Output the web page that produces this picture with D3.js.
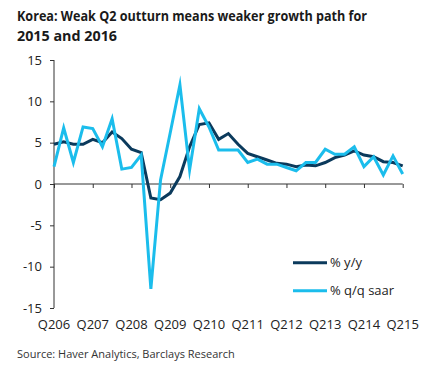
<!DOCTYPE html>
<html>
<head>
<meta charset="utf-8">
<script src="https://cdn.jsdelivr.net/npm/d3@7"></script>
<style>
  html, body { margin: 0; padding: 0; background: #fff; }
  svg { display: block; }
</style>
</head>
<body>
<svg id="chart" width="425" height="372"></svg>
<script>
const titleLines = ["Korea: Weak Q2 outturn means weaker growth path for", "2015 and 2016"];
const sourceText = "Source: Haver Analytics, Barclays Research";
const quarters = ["Q206","Q306","Q406","Q107","Q207","Q307","Q407","Q108","Q208","Q308","Q408","Q109","Q209","Q309","Q409","Q110","Q210","Q310","Q410","Q111","Q211","Q311","Q411","Q112","Q212","Q312","Q412","Q113","Q213","Q313","Q413","Q114","Q214","Q314","Q414","Q115","Q215"];
const tickLabels = ["Q206","Q207","Q208","Q209","Q210","Q211","Q212","Q213","Q214","Q215"];
const yTicks = [-15, -10, -5, 0, 5, 10, 15];
const seriesNames = ["% y/y", "% q/q saar"];
const yoy = [4.8, 5.1, 4.8, 4.8, 5.4, 5.0, 6.3, 5.5, 4.2, 3.8, -1.7, -1.9, -1.1, 0.9, 4.5, 7.2, 7.4, 5.4, 6.1, 4.8, 3.7, 3.3, 2.9, 2.5, 2.4, 2.1, 2.3, 2.2, 2.6, 3.2, 3.5, 4.0, 3.5, 3.3, 2.7, 2.6, 2.2];
const qoq = [2.1, 6.8, 2.6, 6.9, 6.7, 4.5, 7.9, 1.8, 2.0, 3.5, -12.7, 0.5, 6.2, 12.0, 1.7, 9.1, 6.9, 4.1, 4.1, 4.1, 2.6, 3.0, 2.4, 2.4, 2.0, 1.6, 2.6, 2.6, 4.2, 3.6, 3.6, 4.5, 2.1, 3.3, 1.1, 3.4, 1.2];

const colors = ["#0b3a5c", "#1bbdec"];
const svg = d3.select("#chart");
const FONT = "'Open Sans', 'Noto Sans', sans-serif";

const x = d3.scalePoint().domain(quarters).range([54, 402.7]);
const y = d3.scaleLinear().domain([-15, 15]).range([308, 60]);

// Title
const title = svg.append("g").attr("font-family", FONT).attr("font-weight", "bold")
  .attr("font-size", 14.5).attr("fill", "#1a1a1a");
const titleWidths = [350, 100];
titleLines.forEach((t, i) => {
  const el = title.append("text").attr("x", 17).attr("y", 21 + i * 20).text(t);
  const w = el.node().getComputedTextLength();
  if (w > titleWidths[i]) el.attr("textLength", titleWidths[i]).attr("lengthAdjust", "spacingAndGlyphs");
});

// Y axis
const yAxis = svg.append("g").attr("transform", "translate(54,0)")
  .call(d3.axisLeft(y).tickValues(yTicks).tickSize(4).tickPadding(8).tickFormat(d => String(d)));
yAxis.select(".domain").attr("stroke", "#333").attr("d", `M-0,${y(15)}V${y(-15)}`);
yAxis.selectAll(".tick line").attr("stroke", "#333");
yAxis.selectAll("text").attr("font-family", FONT).attr("font-size", 13).attr("fill", "#222");

// X axis at zero
const xAxis = svg.append("g").attr("transform", `translate(0,${y(0)})`)
  .call(d3.axisBottom(x).tickValues(tickLabels).tickSize(4).tickFormat(""));
xAxis.select(".domain").attr("stroke", "#333").attr("d", `M${x(quarters[0])},0H${x(quarters[quarters.length-1])}`);
xAxis.selectAll(".tick line").attr("stroke", "#333");

// X labels at bottom
svg.append("g").selectAll("text").data(tickLabels).join("text")
  .attr("x", d => x(d)).attr("y", 329)
  .attr("text-anchor", "middle")
  .attr("font-family", FONT).attr("font-size", 13).attr("fill", "#222")
  .text(d => d);

// Lines
const line = d3.line().x((d, i) => x(quarters[i])).y(d => y(d));
[yoy, qoq].forEach((s, k) => {
  svg.append("path").datum(s).attr("d", line)
    .attr("fill", "none").attr("stroke", colors[k]).attr("stroke-width", 3)
    .attr("stroke-linejoin", "miter").attr("stroke-miterlimit", 10);
});

// Legend
const legend = svg.append("g").attr("font-family", FONT).attr("font-size", 13).attr("fill", "#222");
seriesNames.forEach((n, i) => {
  const ly = 262.7 + i * 28;
  legend.append("line").attr("x1", 293).attr("x2", 327).attr("y1", ly).attr("y2", ly)
    .attr("stroke", colors[i]).attr("stroke-width", 3);
  legend.append("text").attr("x", 330).attr("y", ly + 4.5).text(n);
});

// Source
svg.append("text").attr("x", 17).attr("y", 358)
  .attr("font-family", FONT).attr("font-size", 11).attr("fill", "#333")
  .text(sourceText);
</script>
</body>
</html>
